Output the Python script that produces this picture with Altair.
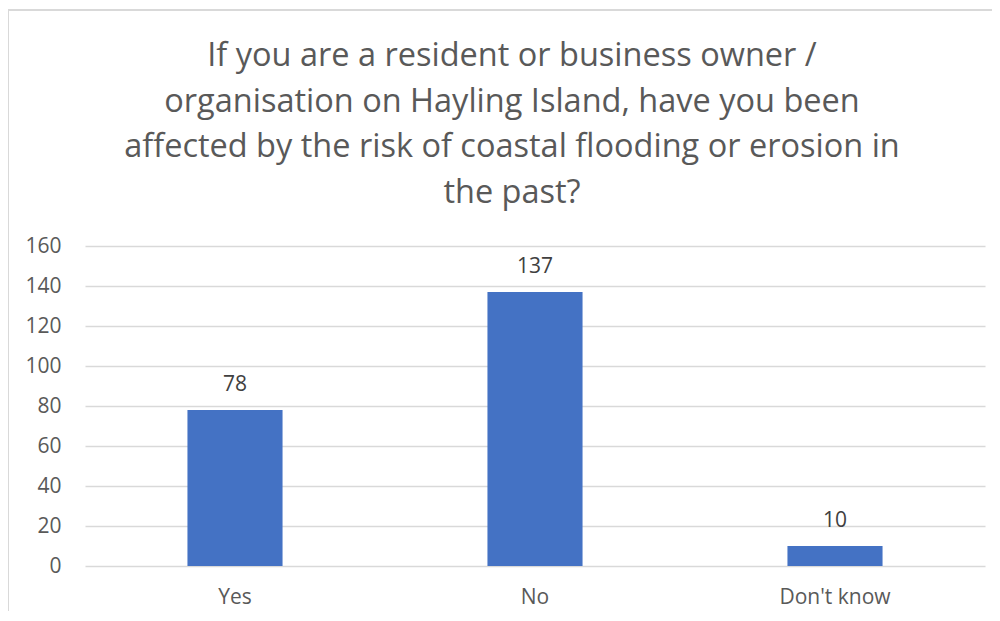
import altair as alt
import pandas as pd

categories = ["Yes", "No", "Don't know"]
counts = [78, 137, 10]
y_ticks = [0, 20, 40, 60, 80, 100, 120, 140, 160]
title_lines = [
    "If you are a resident or business owner /",
    "organisation on Hayling Island, have you been",
    "affected by the risk of coastal flooding or erosion in",
    "the past?",
]

df = pd.DataFrame({"category": categories, "count": counts})
FONT = "Open Sans, sans-serif"

base = alt.Chart(df).encode(
    x=alt.X("category:N", sort=categories, title=None,
            scale=alt.Scale(paddingInner=0.683, paddingOuter=0.3415),
            axis=alt.Axis(labelAngle=0, ticks=False, domain=False, labelPadding=20,
                          labelFontSize=21, labelColor="#595959", labelFont=FONT)),
    y=alt.Y("count:Q", title=None,
            scale=alt.Scale(domain=[0, 160]),
            axis=alt.Axis(values=y_ticks, ticks=False, domain=False, labelPadding=24,
                          labelFontSize=21, labelColor="#595959", labelFont=FONT,
                          gridColor="#d9d9d9", gridWidth=1.3)),
)

bars = base.mark_bar(color="#4472C4")
labels = base.mark_text(dy=-25, fontSize=21, color="#404040", font=FONT).encode(text="count:Q")

frame_df = pd.DataFrame({"k": [0]})
left_line = alt.Chart(frame_df).mark_rule(color="#d9d9d9", strokeWidth=2).encode(
    x=alt.value(-77), y=alt.value(-236), y2=alt.value(420))
top_line = alt.Chart(frame_df).mark_rule(color="#d9d9d9", strokeWidth=2).encode(
    x=alt.value(-77), x2=alt.value(950), y=alt.value(-236))
title_text = alt.Chart(frame_df).mark_text(
    fontSize=32.5, font=FONT, color="#595959", align="center", baseline="alphabetic",
    lineHeight=45.5).encode(
    x=alt.value(427), y=alt.value(-180), text=alt.value(title_lines))

chart = alt.layer(left_line, top_line, bars, labels, title_text).properties(
    width=900, height=320,
    autosize=alt.AutoSizeParams(type="none"),
    padding={"left": 77, "top": 238, "right": 7, "bottom": 45},
).configure_view(stroke=None)

chart.save("out.html", embed_options={"renderer": "svg", "actions": False})
